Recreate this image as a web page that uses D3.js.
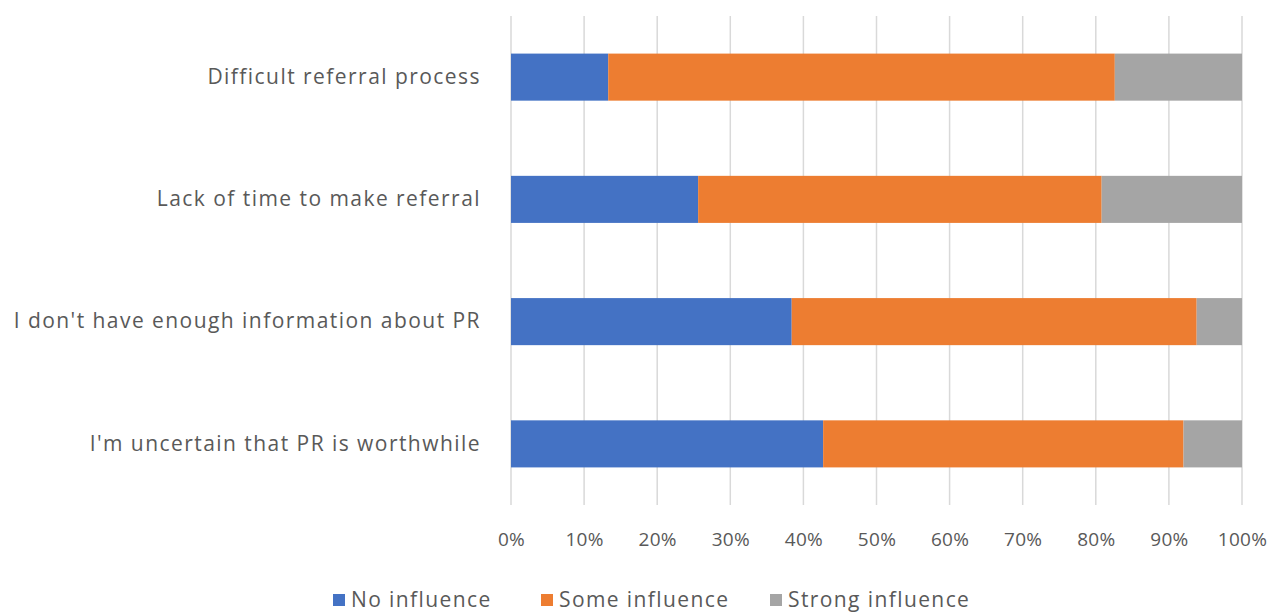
<!DOCTYPE html>
<html><head><meta charset="utf-8">
<script src="https://cdn.jsdelivr.net/npm/d3@7"></script>
<style>body{margin:0;background:#fff}text{font-family:"Open Sans",sans-serif;fill:#595959}</style>
</head><body>
<svg id="c" width="1275" height="614"></svg>
<script>
const categories = ["Difficult referral process","Lack of time to make referral","I don't have enough information about PR","I'm uncertain that PR is worthwhile"];
const seriesNames = ["No influence","Some influence","Strong influence"];
const noInfluence = [13.3, 25.6, 38.4, 42.7];
const someInfluence = [69.3, 55.2, 55.4, 49.3];
const strongInfluence = [17.4, 19.2, 6.2, 8.0];
const tickValues = [0,10,20,30,40,50,60,70,80,90,100];
const colors = ["#4472C4","#ED7D31","#A5A5A5"];

const svg = d3.select("#c");
const x = d3.scaleLinear().domain([0,100]).range([511,1242]);
const y = d3.scaleBand().domain(categories).range([16,505]).paddingInner(0.615).paddingOuter(0.3075);

const rows = categories.map((c,i)=>({cat:c, v:[noInfluence[i], someInfluence[i], strongInfluence[i]]}));

// gridlines
svg.append("g").selectAll("line").data(tickValues).join("line")
  .attr("x1",d=>x(d)).attr("x2",d=>x(d)).attr("y1",16).attr("y2",505)
  .attr("stroke","#d9d9d9").attr("stroke-width",1.5);

// bars
rows.forEach(r=>{
  let acc=0;
  r.v.forEach((v,j)=>{
    svg.append("rect").attr("x",x(acc)).attr("width",x(acc+v)-x(acc))
      .attr("y",y(r.cat)).attr("height",y.bandwidth()).attr("fill",colors[j]);
    acc+=v;
  });
});

// x axis labels
const xAxis = d3.axisBottom(x).tickValues(tickValues).tickSize(0).tickFormat(d=>d+"%");
const gx = svg.append("g").attr("transform","translate(0,529)").call(xAxis);
gx.select(".domain").remove();
gx.selectAll("text").attr("font-size",19).attr("letter-spacing",0.3).attr("font-family","'Open Sans',sans-serif").attr("fill","#595959");

// y axis labels
const yAxis = d3.axisLeft(y).tickSize(0).tickPadding(0);
const gy = svg.append("g").attr("transform","translate(481,0)").call(yAxis);
gy.select(".domain").remove();
gy.selectAll("text").attr("font-size",21).attr("letter-spacing",1.45).attr("font-family","'Open Sans',sans-serif").attr("fill","#595959");

// legend
const legX = [333, 541, 770];
seriesNames.forEach((s,i)=>{
  const g = svg.append("g").attr("transform",`translate(${legX[i]},600)`);
  g.append("rect").attr("x",0).attr("y",-6).attr("width",12).attr("height",12).attr("fill",colors[i]);
  g.append("text").attr("x",18).attr("y",0).attr("dy","0.35em").attr("font-size",21).attr("letter-spacing",1.4).text(s);
});
</script>
</body></html>
